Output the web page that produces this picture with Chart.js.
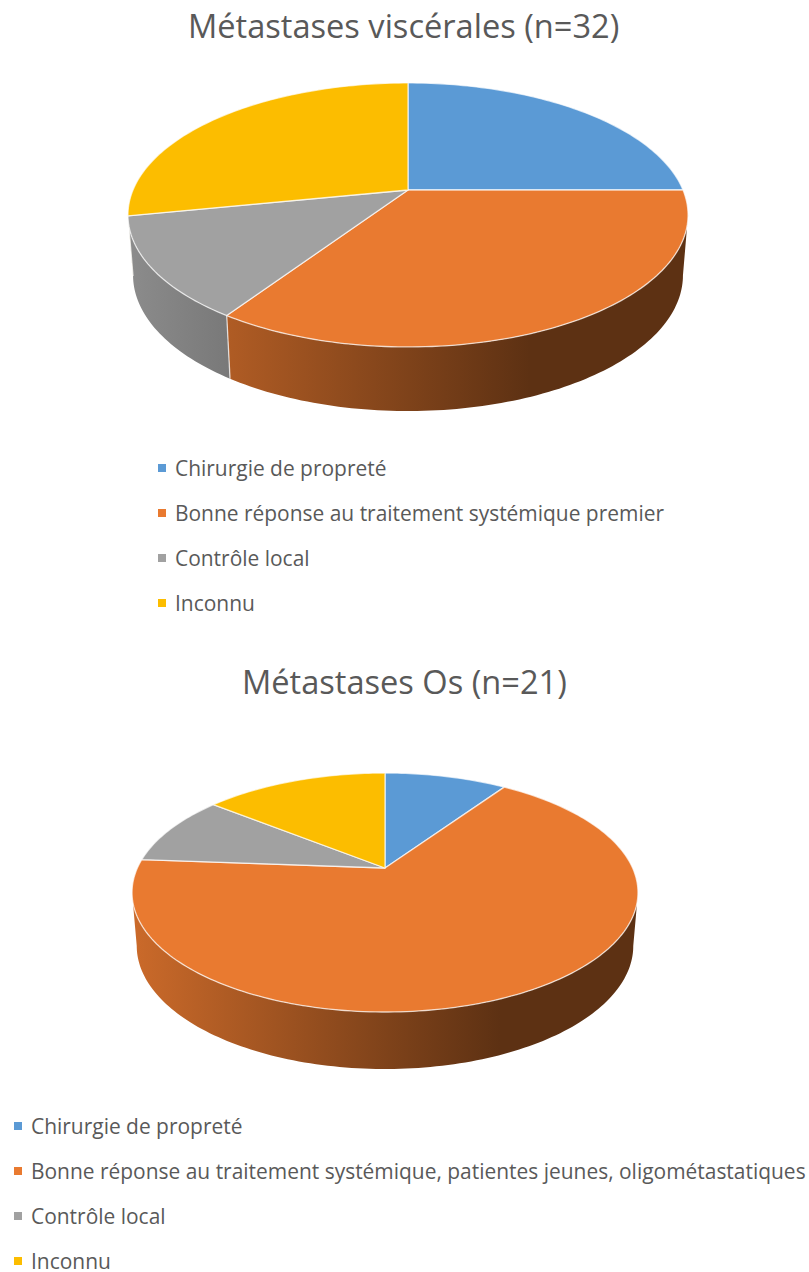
<!DOCTYPE html>
<html>
<head>
<meta charset="utf-8">
<title>Métastases</title>
<script src="https://cdn.jsdelivr.net/npm/chart.js@4/dist/chart.umd.min.js"></script>
<style>
  html, body { margin: 0; padding: 0; background: #fff; }
  body { position: relative; width: 809px; height: 1272px; overflow: hidden; font-family: "Open Sans", sans-serif; color: #595959; }
  canvas { position: absolute; left: 0; }
  .title { position: absolute; left: 0; white-space: nowrap; font-size: 32.6px; line-height: 40px; }
  .legend-item { position: absolute; white-space: nowrap; font-size: 20.95px; line-height: 30px; }
  .legend-item i { position: absolute; top: 11px; width: 8px; height: 8px; }
</style>
</head>
<body>
<div id="page"></div>
<script>
const titleVisc = "Métastases viscérales (n=32)";
const categoriesVisc = ["Chirurgie de propreté", "Bonne réponse au traitement systémique premier", "Contrôle local", "Inconnu"];
const valuesVisc = [8, 11, 4, 9];

const titleOs = "Métastases Os (n=21)";
const categoriesOs = ["Chirurgie de propreté", "Bonne réponse au traitement systémique, patientes jeunes, oligométastatiques", "Contrôle local", "Inconnu"];
const valuesOs = [2, 14, 2, 3];

const colors = ["#5b9ad5", "#e97a30", "#a1a1a1", "#fcbd00"];

const page = document.getElementById("page");

// darken a hex colour by a factor
function shade(hex, f) {
  const n = parseInt(hex.slice(1), 16);
  const r = Math.round((n >> 16) * f);
  const g = Math.round(((n >> 8) & 255) * f);
  const b = Math.round((n & 255) * f);
  return `rgb(${r},${g},${b})`;
}

// perspective view of the unit circle, p is how strong the foreshortening is
function project(disc, p, angle) {
  const u = Math.cos(angle);
  const v = Math.sin(angle);
  const d = 1 - p * v;
  return [disc.cx + (disc.a * u) / d, disc.cy + (disc.q * v) / d];
}

function tracePoints(ctx, disc, p, from, to, first) {
  const steps = Math.max(2, Math.ceil(Math.abs(to - from) / 0.02));
  for (let i = 0; i <= steps; i++) {
    const pt = project(disc, p, from + ((to - from) * i) / steps);
    if (i === 0 && first) ctx.moveTo(pt[0], pt[1]);
    else ctx.lineTo(pt[0], pt[1]);
  }
}

const tiltedPie = {
  id: "tiltedPie",
  beforeDatasetDraw(chart) {
    const { p, top, bottom, gradFrom, gradTo } = chart.options.plugins.tiltedPie;
    const ctx = chart.ctx;
    const arcs = chart.getDatasetMeta(0).data;
    // visible part of the wall, angles as the chart has them (-PI/2 is the top)
    const frontStart = Math.asin(p);
    const frontEnd = Math.PI - Math.asin(p);
    const line = "rgba(255,255,255,0.7)";

    arcs.forEach((arc, i) => {
      const from = Math.max(arc.startAngle, frontStart);
      const to = Math.min(arc.endAngle, frontEnd);
      if (to <= from) return;
      const color = colors[i];
      const grad = ctx.createLinearGradient(gradFrom, 0, gradTo, 0);
      grad.addColorStop(0, shade(color, 0.87));
      grad.addColorStop(1, shade(color, 0.4));
      ctx.beginPath();
      tracePoints(ctx, top, p, from, to, true);
      tracePoints(ctx, bottom, p, to, from, false);
      ctx.closePath();
      ctx.fillStyle = grad;
      ctx.fill();
    });

    // light edge between two wall pieces
    arcs.forEach((arc) => {
      if (arc.endAngle > frontStart && arc.endAngle < frontEnd) {
        const a = project(top, p, arc.endAngle);
        const b = project(bottom, p, arc.endAngle);
        ctx.beginPath();
        ctx.moveTo(a[0], a[1]);
        ctx.lineTo(b[0], b[1]);
        ctx.strokeStyle = line;
        ctx.lineWidth = 1.3;
        ctx.stroke();
      }
    });

    arcs.forEach((arc, i) => {
      ctx.beginPath();
      ctx.moveTo(top.cx, top.cy);
      tracePoints(ctx, top, p, arc.startAngle, arc.endAngle, false);
      ctx.closePath();
      ctx.fillStyle = colors[i];
      ctx.fill();
      ctx.strokeStyle = line;
      ctx.lineWidth = 1.3;
      ctx.lineJoin = "round";
      ctx.stroke();
    });
    return false;
  },
};

function addPie(canvasTop, canvasHeight, values, view) {
  const canvas = document.createElement("canvas");
  canvas.width = 809;
  canvas.height = canvasHeight;
  canvas.style.top = canvasTop + "px";
  page.appendChild(canvas);
  new Chart(canvas, {
    type: "pie",
    data: {
      datasets: [{ data: values, backgroundColor: colors, borderWidth: 0 }],
    },
    options: {
      responsive: false,
      animation: false,
      devicePixelRatio: 1,
      events: [],
      plugins: {
        legend: { display: false },
        tooltip: { enabled: false },
        tiltedPie: view,
      },
    },
    plugins: [tiltedPie],
  });
}

function addTitle(text, left, top) {
  const el = document.createElement("div");
  el.className = "title";
  el.style.left = left + "px";
  el.style.top = top + "px";
  el.textContent = text;
  page.appendChild(el);
}

function addLegend(categories, left, top) {
  categories.forEach((name, i) => {
    const el = document.createElement("div");
    el.className = "legend-item";
    el.style.left = left + 17 + "px";
    el.style.top = top + i * 45 + "px";
    el.textContent = name;
    const mark = document.createElement("i");
    mark.style.left = "-17px";
    mark.style.background = colors[i];
    el.appendChild(mark);
    page.appendChild(el);
  });
}

addTitle(titleVisc, 188, 6);
addPie(60, 370, valuesVisc, {
  p: 0.189,
  top: { cx: 408, cy: 130, a: 275, q: 127.3 },
  bottom: { cx: 408, cy: 189.5, a: 270, q: 131 },
  gradFrom: 127,
  gradTo: 530,
});
addLegend(categoriesVisc, 158, 453);

addTitle(titleOs, 242, 662);
addPie(750, 340, valuesOs, {
  p: 0.205,
  top: { cx: 385, cy: 118, a: 247.6, q: 114.5 },
  bottom: { cx: 385, cy: 170.6, a: 243, q: 118 },
  gradFrom: 132,
  gradTo: 500,
});
addLegend(categoriesOs, 14, 1111);
</script>
</body>
</html>
